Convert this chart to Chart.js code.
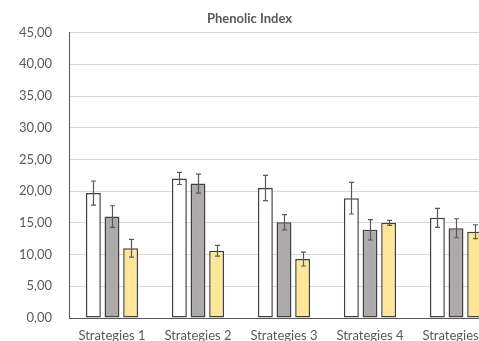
<!doctype html>
<html lang="en">
  <head>
    <meta charset="UTF-8" />
    <title>Phenolic Index</title>
    <script src="https://cdn.jsdelivr.net/npm/chart.js"></script>
    <style>
      body {
        margin: 0;
        overflow: hidden;
        background: #ffffff;
      }
      #wrap {
        width: 500px;
        height: 350px;
        position: relative;
      }
    </style>
  </head>
  <body>
    <div id="wrap">
      <canvas id="phenolChart"></canvas>
    </div>

    <script>
      // data
      const categories = ["Strategies 1", "Strategies 2", "Strategies 3", "Strategies 4", "Strategies 5"];
      const whiteValues = [19.7, 22.0, 20.5, 18.9, 15.8];
      const whiteErrors = [1.9, 0.95, 2.0, 2.5, 1.5];
      const grayValues = [16.0, 21.2, 15.1, 13.9, 14.15];
      const grayErrors = [1.7, 1.5, 1.2, 1.6, 1.5];
      const yellowValues = [11.0, 10.6, 9.3, 15.0, 13.6];
      const yellowErrors = [1.4, 0.85, 1.1, 0.4, 1.1];

      const textColor = "#595959";

      // error bars drawn from the data through the y scale
      const errorBars = {
        id: "errorBars",
        afterDatasetsDraw(chart) {
          const { ctx } = chart;
          const yScale = chart.scales.y;
          ctx.save();
          ctx.strokeStyle = "#595959";
          ctx.lineWidth = 1.2;
          chart.data.datasets.forEach((ds, i) => {
            const meta = chart.getDatasetMeta(i);
            meta.data.forEach((bar, j) => {
              const v = ds.data[j];
              const e = ds.errors[j];
              const top = yScale.getPixelForValue(v + e);
              const bottom = yScale.getPixelForValue(v - e);
              const x = Math.round(bar.x) + 0.5;
              ctx.beginPath();
              ctx.moveTo(x, top);
              ctx.lineTo(x, bottom);
              ctx.moveTo(x - 2.5, top);
              ctx.lineTo(x + 2.5, top);
              ctx.moveTo(x - 2.5, bottom);
              ctx.lineTo(x + 2.5, bottom);
              ctx.stroke();
            });
          });
          ctx.restore();
        },
      };

      const barStyle = {
        borderColor: "#404040",
        borderWidth: 1.5,
        borderSkipped: false,
        categoryPercentage: 0.65,
        barPercentage: 0.8,
      };

      new Chart(document.getElementById("phenolChart"), {
        type: "bar",
        data: {
          labels: categories,
          datasets: [
            { label: "Series 1", data: whiteValues, errors: whiteErrors, backgroundColor: "#ffffff", ...barStyle },
            { label: "Series 2", data: grayValues, errors: grayErrors, backgroundColor: "#aeaaaa", ...barStyle },
            { label: "Series 3", data: yellowValues, errors: yellowErrors, backgroundColor: "#ffe699", ...barStyle },
          ],
        },
        options: {
          responsive: true,
          maintainAspectRatio: false,
          animation: false,
          layout: { padding: { top: 0, right: 1, bottom: 0, left: 0 } },
          plugins: {
            legend: { display: false },
            tooltip: { enabled: false },
            title: {
              display: true,
              text: "Phenolic Index",
              color: textColor,
              font: { family: "Lato", size: 13, weight: "bold" },
              padding: { top: 11, bottom: 6 },
            },
          },
          scales: {
            x: {
              grid: { display: false, drawTicks: false },
              border: { display: true, color: "#595959", width: 1 },
              ticks: {
                color: textColor,
                font: { family: "Lato", size: 13 },
                padding: 10,
                maxRotation: 0,
                autoSkip: false,
              },
              afterFit(scale) {
                scale.height = 32;
              },
            },
            y: {
              min: 0,
              max: 45,
              ticks: {
                stepSize: 5,
                color: textColor,
                font: { family: "Lato", size: 13 },
                padding: 17,
                callback: (v) => v.toFixed(2).replace(".", ","),
              },
              grid: { color: "#d9d9d9", drawTicks: false },
              border: { display: true, color: "#595959", width: 1 },
              afterFit(scale) {
                scale.width = 69;
              },
            },
          },
        },
        plugins: [errorBars],
      });
    </script>
  </body>
</html>
